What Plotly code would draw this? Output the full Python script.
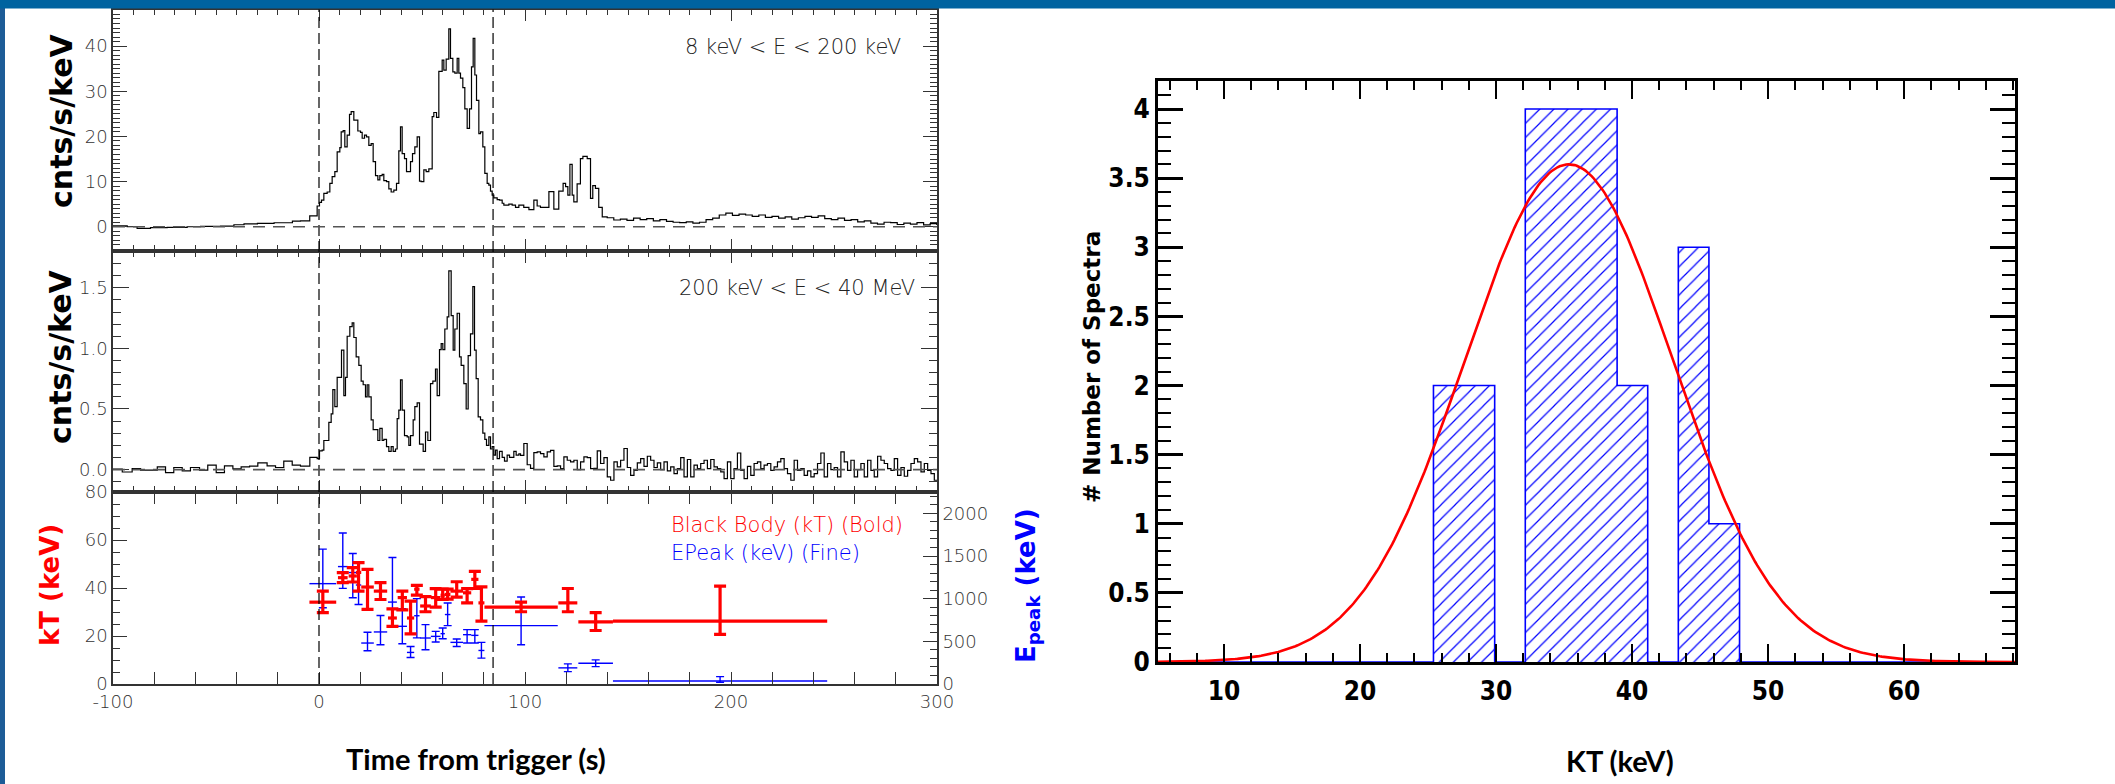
import numpy as np
import plotly.graph_objects as go

W, H = 2115, 784
def px(x): return x / W
def py(y): return 1 - y / H

# ---------------- DATA ----------------
# Top light curve (8 keV < E < 200 keV): bin start times (s) and rates (cnts/s/keV)
soft_t = [-100, -93.1, -88.3, -81.8, -73.7, -64.0, -57.5, -47.8, -41.3, -36.4, -29.9, -21.8, -12.9, -9.0, -4.5,
          -0.9, 0.24, 1.21, 2.35, 3.96, 5.26, 6.39, 7.69, 8.82, 10.11, 10.76, 11.73, 12.54, 13.67, 14.81, 15.62,
          16.91, 18.85, 20.15, 20.96, 22.09, 23.06, 24.19, 25.32, 26.29, 27.43, 28.56, 29.53, 30.66, 31.47,
          32.77, 33.90, 35.03, 36.33, 37.62, 38.75, 39.56, 40.37, 41.50, 42.48, 44.42, 45.39, 46.52, 47.65,
          48.79, 49.60, 50.89, 52.02, 53.32, 54.94, 55.74, 57.04, 58.17, 59.79, 60.60, 61.73, 63.02, 63.83,
          64.97, 65.94, 67.07, 67.88, 68.69, 69.82, 70.79, 71.93, 73.06, 74.03, 74.84, 75.65, 76.46, 77.59,
          78.40, 79.53, 80.50, 81.63, 82.44, 83.25, 84.06, 84.87, 86.49, 87.62, 88.92, 89.73, 92.15, 93.77,
          95.39, 97.01, 99.4, 101.9, 104.3, 105.9, 107.5, 111.6, 114.0, 116.4, 118.5, 119.7, 120.8, 121.8,
          122.9, 123.7, 125.3, 126.9, 128.1, 130.2, 131.8, 132.9, 134.2, 135.8, 137.5, 139.9]
soft_rate = [0.2, 0.0, -0.35, -0.2, -0.15, 0.0, 0.07, 0.15, 0.44, 0.66, 0.74, 0.89, 1.25, 1.3, 2.4,
             4.6, 5.4, 5.9, 7.4, 7.7, 9.6, 11.1, 12.2, 16.6, 17.5, 21.0, 21.3, 17.7, 20.3, 24.9, 25.5,
             23.6, 21.2, 20.9, 19.6, 20.3, 19.9, 18.0, 18.4, 14.4, 11.3, 10.4, 11.3, 11.6,
             10.2, 10.0, 8.4, 7.7, 8.1, 9.6, 16.8, 22.1, 16.2, 15.1, 12.2, 14.4, 16.2, 17.7,
             19.9, 10.1, 10.0, 12.6, 12.2, 12.8, 24.4, 25.3, 24.2, 34.4, 36.9, 34.7, 37.1, 43.8,
             37.3, 34.3, 34.0, 37.3, 34.0, 32.9, 30.8, 26.1, 21.8, 26.1, 35.4, 41.7, 33.6, 28.0,
             20.6, 21.0, 17.7, 11.8, 9.6, 9.2, 7.9, 7.0, 6.4, 6.0, 5.9, 5.2, 4.8, 5.0,
             4.8, 4.3, 4.8, 4.3, 3.8, 5.9, 4.6, 4.3, 7.8, 3.9, 7.9, 9.6, 8.9, 7.0,
             13.8, 7.0, 5.5, 9.5, 15.1, 15.6, 15.1, 6.3, 9.1, 8.5, 4.3, 2.2]
# tail of the soft light curve: regular bins
soft_tail_t0, soft_tail_dt = 143.1, 3.2
soft_tail_rate = [2.0, 1.5, 1.7, 1.4, 1.9, 1.6, 1.8, 1.3, 1.6, 1.2, 1.0, 0.9, 1.1, 0.8, 1.0, 1.6, 1.9, 2.6, 3.0, 2.5,
                  2.8, 2.6, 2.3, 2.6, 2.1, 2.3, 1.9, 2.2, 1.7, 2.0, 2.3, 2.1, 2.4, 1.8, 1.6, 1.9, 1.4, 1.6,
                  1.1, 1.3, 0.8, 0.6, 1.0, 0.9, 0.5, 0.8, 0.6, 0.9, 0.4, 0.7, 0.5]

# Middle light curve (200 keV < E < 40 MeV)
hard_t = [-100, -95.5, -90.7, -86.6, -78.5, -74.5, -70.5, -66.4, -62.4, -58.0, -54.0, -49.9, -45.9, -41.8,
          -37.8, -33.7, -29.7, -25.2, -21.1, -17.1, -13.0, -9.0,
          -4.45, -0.89, 0.24, 1.54, 2.35, 3.64, 4.77, 5.91, 6.72, 7.69, 8.82, 10.11, 10.92, 12.06, 12.86,
          13.67, 14.97, 16.10, 16.91, 18.04, 19.34, 20.47, 21.44, 22.57, 23.38, 24.19, 25.32, 26.29, 27.43,
          28.56, 29.53, 30.66, 31.47, 32.77, 33.90, 35.03, 36.00, 37.14, 37.95, 38.75, 39.56, 40.37, 41.50,
          42.80, 43.61, 44.42, 45.71, 46.52, 47.65, 48.79, 49.60, 50.57, 51.70, 52.83, 54.13, 55.26, 56.55,
          57.36, 58.50, 59.31, 60.11, 61.08, 62.22, 63.02, 64.16, 65.13, 65.94, 67.07, 68.20, 69.01, 70.31,
          71.44, 72.41, 73.54, 74.68, 75.49, 76.29, 77.27, 78.40, 79.53, 80.50, 81.31, 82.44, 83.25, 84.06,
          84.87, 85.68, 86.49, 87.62, 88.92, 90.05, 91.34, 92.48, 93.77, 94.58, 95.71, 97.01]
hard_rate = [0.003, -0.02, 0.008, -0.005, 0.022, -0.025, 0.017, -0.011, 0.017, -0.005, 0.036, -0.025, 0.03,
             0.006, 0.022, 0.028, 0.055, 0.03, 0.017, 0.069, 0.036, 0.028,
             0.10, 0.09, 0.155, 0.16, 0.24, 0.24, 0.39, 0.46, 0.66, 0.52, 0.76, 0.76, 0.985, 0.61, 0.76,
             1.10, 1.18, 1.21, 1.09, 0.93, 0.86, 0.73, 0.70, 0.60, 0.70, 0.60, 0.41, 0.33, 0.33,
             0.24, 0.34, 0.24, 0.25, 0.19, 0.15, 0.19, 0.15, 0.17, 0.42, 0.49, 0.74, 0.49, 0.28,
             0.27, 0.20, 0.28, 0.41, 0.52, 0.55, 0.21, 0.21, 0.15, 0.31, 0.24, 0.71, 0.73, 0.83,
             0.61, 0.99, 1.04, 0.99, 1.16, 1.26, 1.64, 1.27, 0.985, 1.16, 1.29, 0.93, 0.86, 0.71,
             0.50, 0.94, 1.12, 1.51, 0.985, 0.75, 0.435, 0.41, 0.30, 0.25, 0.20, 0.27, 0.17, 0.19,
             0.12, 0.16, 0.09, 0.15, 0.10, 0.07, 0.12, 0.10, 0.10, 0.15, 0.12, 0.13]
hard_tail_t0, hard_tail_dt = 97.82, 1.62
hard_tail_rate = [0.118, 0.215, 0.04, 0.01, 0.14, 0.146, 0.132, 0.105, 0.146, 0.159, 0.027, 0.03, 0.008, 0.105,
                  0.077, 0.063, 0.077, 0.0, 0.063, 0.105, 0.099, 0.008, 0.01, 0.154, 0.05, 0.099, -0.06, -0.088,
                  0.063, 0.022, 0.077, 0.174, 0.017, -0.047, -0.006, 0.055, 0.091, 0.027, 0.11, 0.077, 0.017,
                  0.055, 0.0, 0.063, -0.011, 0.022, -0.033, 0.008, 0.099, -0.061, 0.083, -0.061, 0.036, 0.008,
                  0.05, 0.077, 0.008, 0.083, 0.022, 0.008, -0.019, -0.074, 0.063, -0.074, 0.008, 0.137, -0.006,
                  -0.074, 0.027, -0.047, 0.05, 0.063, 0.008, 0.036, 0.05, -0.006, 0.022, 0.063, 0.091, 0.008,
                  -0.033, -0.088, 0.077, -0.006, 0.008, -0.047, -0.011, -0.061, -0.033, 0.05, 0.137, -0.061,
                  0.05, 0.0, 0.017, -0.061, 0.146, 0.063, -0.006, 0.077, -0.061, 0.0, 0.05, -0.061, 0.077,
                  -0.006, -0.061, 0.11, 0.077, 0.05, 0.008, -0.006, 0.091, -0.047, 0.017, -0.055, -0.006, 0.05,
                  0.091, 0.063, -0.019, 0.05, -0.006, -0.033, -0.088]

# Time-resolved spectroscopy: bin start / end (s)
spec_t_start = [-4.65, 9.2, 14.4, 17.9, 20.5, 26.6, 33.5, 38.2, 42.7, 46.2, 49.1, 54.3, 59.0, 61.1, 63.8,
                69.9, 73.9, 77.4, 80.3, 116.2, 125.9, 142.7]
spec_t_end = [8.36, 13.9, 18.4, 20.5, 26.6, 33.1, 37.8, 42.7, 46.2, 48.8, 54.3, 59.0, 61.1, 63.8, 69.9,
              73.9, 77.4, 80.3, 115.9, 125.4, 142.7, 246.7]
kT = [34.1, 44.3, 45.0, 46.5, 40.4, 38.7, 27.5, 36.0, 27.5, 39.5, 32.5, 36.0, 37.0, 37.3, 38.7,
      38.0, 43.6, 33.8, 32.0, 33.8, 25.9, 26.2]
kT_lo = [29.7, 42.2, 42.5, 38.7, 31.1, 35.2, 24.0, 30.9, 20.9, 37.0, 30.1, 32.0, 35.2, 35.4, 36.2,
         33.8, 39.8, 26.2, 30.1, 30.1, 22.3, 20.7]
kT_hi = [38.7, 46.4, 48.5, 50.6, 47.8, 42.2, 31.3, 38.7, 34.5, 41.1, 36.4, 39.7, 39.5, 39.5, 42.6,
         39.7, 46.9, 40.5, 34.1, 39.8, 29.7, 40.8]
epeak = [1176, 1376, 1306, 1160, 480, 610, 960, 676, 370, 800, 539, 558, 590, 814, 488,
         578, 570, 393, 684, 189, 244, 35]
epeak_lo = [893, 1121, 1011, 932, 389, 460, 665, 472, 311, 540, 401, 492, 531, 684, 440,
            480, 480, 303, 460, 145, 204, 20]
epeak_hi = [1581, 1770, 1530, 1424, 606, 802, 1483, 881, 440, 1000, 696, 617, 657, 950, 527,
            637, 637, 488, 1019, 236, 283, 86]

time_ticks = [-100, 0, 100, 200, 300]
time_tick_text = ['-100', '0', '100', '200', '300']

# Histogram of kT (right panel)
hist_lo, hist_width = 5.15, 2.25
hist_counts = [0, 0, 0, 0, 0, 0, 0, 0, 0, 2, 2, 0, 4, 4, 4, 2, 0, 3, 1, 0, 0, 0, 0, 0, 0, 0, 0, 0]
# Gaussian fit parameters
fit_amp, fit_mean, fit_sigma = 3.6, 35.35, 7.65

trigger_window = [0, 84.5]

# ---------------- BUILD ----------------
def steps(starts, vals, end):
    return list(starts) + [end], list(vals) + [vals[-1]]

sx1, sy1 = steps(soft_t + [soft_tail_t0 + i * soft_tail_dt for i in range(len(soft_tail_rate))],
                 soft_rate + soft_tail_rate, soft_tail_t0 + len(soft_tail_rate) * soft_tail_dt)
sx2, sy2 = steps(hard_t + [hard_tail_t0 + i * hard_tail_dt for i in range(len(hard_tail_rate))],
                 hard_rate + hard_tail_rate, hard_tail_t0 + len(hard_tail_rate) * hard_tail_dt)

tc = [(a + b) / 2 for a, b in zip(spec_t_start, spec_t_end)]
thw = [(b - a) / 2 for a, b in zip(spec_t_start, spec_t_end)]

fig = go.Figure()
fig.add_trace(go.Scatter(x=sx1, y=sy1, mode='lines', line=dict(color='black', width=1.2, shape='hv'),
                         xaxis='x', yaxis='y', showlegend=False))
fig.add_trace(go.Scatter(x=sx2, y=sy2, mode='lines', line=dict(color='black', width=1.2, shape='hv'),
                         xaxis='x2', yaxis='y2', showlegend=False))
# Epeak (base axis y3, right)
fig.add_trace(go.Scatter(x=tc, y=epeak, mode='markers', marker=dict(size=1, color='#0000ff'),
                         error_x=dict(type='data', array=thw, thickness=1.4, width=0, color='#0000ff'),
                         error_y=dict(type='data', symmetric=False,
                                      array=[h - c for h, c in zip(epeak_hi, epeak)],
                                      arrayminus=[c - l for c, l in zip(epeak, epeak_lo)],
                                      thickness=1.4, width=4, color='#0000ff'),
                         xaxis='x3', yaxis='y3', showlegend=False))
# kT (overlay axis y4, left)
fig.add_trace(go.Scatter(x=tc, y=kT, mode='markers', marker=dict(size=1, color='#ff0000'),
                         error_x=dict(type='data', array=thw, thickness=3.2, width=0, color='#ff0000'),
                         error_y=dict(type='data', symmetric=False,
                                      array=[h - c for h, c in zip(kT_hi, kT)],
                                      arrayminus=[c - l for c, l in zip(kT, kT_lo)],
                                      thickness=3.2, width=6, color='#ff0000'),
                         xaxis='x3', yaxis='y4', showlegend=False))

# Histogram
edges = [hist_lo + i * hist_width for i in range(len(hist_counts) + 1)]
fig.add_trace(go.Scatter(x=edges, y=hist_counts + [hist_counts[-1]], mode='lines',
                         line=dict(color='#0000ff', width=1.6, shape='hv'),
                         fill='tozeroy', fillcolor='rgba(0,0,0,0)',
                         fillpattern=dict(shape='/', fgcolor='#0000ff', bgcolor='white', size=10, solidity=0.12),
                         xaxis='x4', yaxis='y5', showlegend=False))
gx = np.linspace(edges[0], edges[-1], 400)
gy = fit_amp * np.exp(-(gx - fit_mean) ** 2 / (2 * fit_sigma ** 2))
fig.add_trace(go.Scatter(x=gx, y=gy, mode='lines', line=dict(color='#ff0000', width=2.6),
                         xaxis='x4', yaxis='y5', showlegend=False))

# ---------------- LAYOUT ----------------
thin_font = dict(family='DejaVu Sans', size=18, color='#333', weight=200)
left_common = dict(showgrid=False, zeroline=False, showline=True, linecolor='#333', linewidth=1.6,
                   ticks='inside', tickcolor='#333', tickwidth=1.2, tickfont=thin_font)
xdom = [px(113), px(937)]
d_top = [py(250.7), py(9.5)]
d_mid = [py(492), py(250.7)]
d_bot = [py(684), py(492)]
narrow_bold = 'Liberation Sans Narrow, Arial Narrow, DejaVu Sans Condensed, Liberation Sans'

layout = dict(
    width=W, height=H, margin=dict(l=0, r=0, t=0, b=0),
    paper_bgcolor='white', plot_bgcolor='rgba(0,0,0,0)', template='none', showlegend=False,
    xaxis=dict(left_common, domain=xdom, range=[-100, 300], anchor='y', dtick=100, tick0=0, ticklen=12,
               mirror='allticks', showticklabels=False,
               minor=dict(ticks='inside', dtick=10, ticklen=6, tickcolor='#333', tickwidth=1, showgrid=False)),
    yaxis=dict(left_common, domain=d_top, range=[-5.3, 48.1], anchor='x', dtick=10, tick0=0, ticklen=14,
               mirror='allticks',
               minor=dict(ticks='inside', dtick=1, ticklen=7, tickcolor='#333', tickwidth=1, showgrid=False)),
    xaxis2=dict(left_common, domain=xdom, range=[-100, 300], anchor='y2', dtick=100, tick0=0, ticklen=12,
                mirror='allticks', showticklabels=False,
                minor=dict(ticks='inside', dtick=10, ticklen=6, tickcolor='#333', tickwidth=1, showgrid=False)),
    yaxis2=dict(left_common, domain=d_mid, range=[-0.185, 1.806], anchor='x2', dtick=0.5, tick0=0,
                tickformat='.1f', ticklen=16, mirror='allticks',
                minor=dict(ticks='inside', dtick=0.1, ticklen=8, tickcolor='#333', tickwidth=1, showgrid=False)),
    xaxis3=dict(left_common, domain=xdom, range=[-100, 300], anchor='y3', tickmode='array',
                tickvals=time_ticks, ticktext=time_tick_text, ticklen=12, mirror='allticks',
                ticklabelstandoff=1,
                minor=dict(ticks='inside', dtick=20, tick0=0, ticklen=6, tickcolor='#333', tickwidth=1,
                           showgrid=False)),
    yaxis3=dict(left_common, domain=d_bot, range=[0, 2250], anchor='x3', side='right', dtick=500, tick0=0,
                ticklen=14,
                minor=dict(ticks='inside', dtick=100, ticklen=7, tickcolor='#333', tickwidth=1, showgrid=False)),
    yaxis4=dict(left_common, range=[0, 80], anchor='x3', overlaying='y3', side='left', dtick=20, tick0=0,
                ticklen=14,
                minor=dict(ticks='inside', dtick=5, ticklen=7, tickcolor='#333', tickwidth=1, showgrid=False)),
    xaxis4=dict(domain=[px(1158), px(2015)], range=[edges[0], edges[-1]], anchor='y5', showgrid=False,
                zeroline=False, showline=True, linecolor='black', linewidth=3, mirror='allticks',
                ticks='inside', ticklen=18, tickwidth=2, tickcolor='black', dtick=10, tick0=0,
                ticklabelstandoff=4,
                tickfont=dict(family=narrow_bold, size=26, color='black', weight='bold'),
                minor=dict(ticks='inside', dtick=2, ticklen=9, tickwidth=1.5, tickcolor='black', showgrid=False)),
    yaxis5=dict(domain=[py(662), py(80.7)], range=[0, 4.205], anchor='x4', showgrid=False,
                zeroline=False, showline=True, linecolor='black', linewidth=3, mirror='allticks',
                ticks='inside', ticklen=25, tickwidth=2.5, tickcolor='black', dtick=0.5, tick0=0,
                tickfont=dict(family=narrow_bold, size=26, color='black', weight='bold'),
                minor=dict(ticks='inside', dtick=0.1, ticklen=13, tickwidth=1.5, tickcolor='black', showgrid=False)),
)
fig.update_layout(**layout)

shapes = []
for tv in trigger_window:
    shapes.append(dict(type='line', xref='x', yref='paper', x0=tv, x1=tv, y0=d_bot[0], y1=d_top[1],
                       line=dict(color='black', width=1.2, dash='11px,5px')))
for yr in ['y', 'y2']:
    shapes.append(dict(type='line', xref='x', yref=yr, x0=-100, x1=300, y0=0, y1=0,
                       line=dict(color='#555', width=1.6, dash='12px,8px')))
# slide decoration
shapes.append(dict(type='rect', xref='paper', yref='paper', x0=0, x1=px(5), y0=0, y1=1,
                   fillcolor='#1d5c97', line=dict(width=0), layer='above'))
shapes.append(dict(type='rect', xref='paper', yref='paper', x0=0, x1=1, y0=py(8.5), y1=1,
                   fillcolor='#0063a0', line=dict(width=0), layer='above'))
fig.update_layout(shapes=shapes)

ann_font_thin = dict(family='DejaVu Sans', size=21, color='#222', weight=200)
big_bold = 'DejaVu Sans'
title_font = 'Liberation Sans Narrow, Arial Narrow, Lato'
annotations = [
    dict(text='8 keV < E < 200 keV', x=px(903), y=py(46.7), xanchor='right', yanchor='middle',
         font=ann_font_thin),
    dict(text='200 keV < E < 40 MeV', x=px(917), y=py(287.7), xanchor='right', yanchor='middle',
         font=ann_font_thin),
    dict(text='Black Body (kT) (Bold)', x=px(669), y=py(525), xanchor='left', yanchor='middle',
         font=dict(ann_font_thin, color='#ff0000')),
    dict(text='EPeak (keV) (Fine)', x=px(669), y=py(553), xanchor='left', yanchor='middle',
         font=dict(ann_font_thin, color='#0000ff')),
    dict(text='cnts/s/keV', x=px(61), y=py(121), textangle=-90, xanchor='center', yanchor='middle',
         font=dict(family=big_bold, size=30, color='black', weight='bold')),
    dict(text='cnts/s/keV', x=px(61), y=py(357), textangle=-90, xanchor='center', yanchor='middle',
         font=dict(family=big_bold, size=30, color='black', weight='bold')),
    dict(text='kT (keV)', x=px(50), y=py(585), textangle=-90, xanchor='center', yanchor='middle',
         font=dict(family=big_bold, size=26, color='#ff0000', weight='bold')),
    dict(text='E<sub>peak</sub> (keV)', x=px(1027), y=py(586), textangle=-90, xanchor='center',
         yanchor='middle', font=dict(family=big_bold, size=26, color='#0000ff', weight='bold')),
    dict(text='Time from trigger (s)', x=px(476), y=py(758), xanchor='center', yanchor='middle',
         font=dict(family=title_font, size=29, color='black', weight='bold')),
    dict(text='KT (keV)', x=px(1620), y=py(760), xanchor='center', yanchor='middle',
         font=dict(family=title_font, size=29, color='black', weight='bold')),
    dict(text='# Number of Spectra', x=px(1092), y=py(367), textangle=-90, xanchor='center',
         yanchor='middle', font=dict(family=big_bold, size=23, color='black', weight='bold')),
]
for a in annotations:
    a.update(xref='paper', yref='paper', showarrow=False)
fig.update_layout(annotations=annotations)

fig.write_html('out.html')
